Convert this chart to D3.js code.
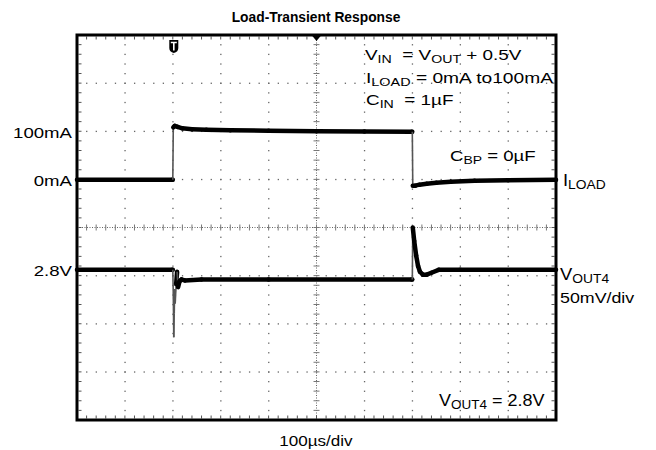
<!DOCTYPE html>
<html>
<head>
<meta charset="utf-8">
<script src="https://cdn.jsdelivr.net/npm/d3@7"></script>
<style>
  body { margin: 0; background: #fff; }
  svg text { font-family: "Liberation Sans", Arial, sans-serif; fill: #000; }
</style>
</head>
<body>
<div id="chart"></div>
<script>
// scope traces, read off the screen shot
// time in µs (100µs/div, 10 div across)
const loadTime = [0, 199, 200, 201, 204, 210, 220, 240, 270, 320, 400, 500, 600, 699, 700, 701, 706, 715, 730, 750, 780, 830, 900, 1000];
const loadMA   = [0, 0, 0, 109, 112, 110, 107, 105, 104, 103, 102, 101, 100.5, 100, 100, -12, -12, -10, -8, -6, -4, -2, -1, 0];

const voutTime = [0, 199, 200, 201, 202, 203, 204, 205, 207, 209, 211, 214, 218, 225, 260, 400, 699, 700, 701, 704, 708, 712, 716, 722, 730, 740, 755, 800, 1000];
const voutMV   = [0, 0, 0, -25, -70, -45, -20, -35, -15, -2, -18, -12, -10, -11, -10, -10, -10, -10, 44, 30, 15, 4, -2, -5, -5, -3, 0, 0, 0];

const xDivs = 10, yDivs = 8;
const chLabelsLeft = [
  { text: '100mA', ch: 'I', v: 100 },
  { text: '0mA', ch: 'I', v: 0 },
  { text: '2.8V', ch: 'V', v: 0 }
];

const W = 656, H = 450;
const frame = { left: 77, right: 556, top: 35, bottom: 420 };
const NB = '\u00a0';

const svg = d3.select('#chart').append('svg')
  .attr('width', W).attr('height', H);

const x = d3.scaleLinear().domain([0, 1000]).range([frame.left, frame.right]);
const yDiv = d3.scaleLinear().domain([-yDivs / 2, yDivs / 2]).range([frame.bottom, frame.top]);
const xDiv = d3.scaleLinear().domain([0, xDivs]).range([frame.left, frame.right]);

// channel offsets / scales in divisions
const yI = d3.scaleLinear().domain([0, 100]).range([yDiv(0.99), yDiv(1.99)]);     // 100mA/div
const yV = d3.scaleLinear().domain([0, 50]).range([yDiv(-0.88), yDiv(0.12)]);     // 50mV/div

// --- graticule ---
const grid = svg.append('g');
const minorX = d3.range(1, xDivs * 5).map(j => j / 5);
const minorY = d3.range(1, yDivs * 5).map(j => -yDivs / 2 + j / 5);

// dotted division lines
d3.range(1, xDivs).filter(k => k !== xDivs / 2).forEach(k => {
  grid.selectAll(null).data(minorY).enter().append('rect')
    .attr('x', xDiv(k) - 0.5).attr('y', d => yDiv(d) - 0.5)
    .attr('width', 1.3).attr('height', 1.3).attr('fill', '#666');
});
d3.range(-yDivs / 2 + 1, yDivs / 2).filter(k => k !== 0).forEach(k => {
  grid.selectAll(null).data(minorX).enter().append('rect')
    .attr('x', d => xDiv(d) - 0.5).attr('y', yDiv(k) - 0.5)
    .attr('width', 1.3).attr('height', 1.3).attr('fill', '#666');
});

// centre axes
grid.append('line')
  .attr('x1', frame.left).attr('x2', frame.right)
  .attr('y1', yDiv(0)).attr('y2', yDiv(0))
  .attr('stroke', '#666').attr('stroke-dasharray', '1,1.5');
grid.append('line')
  .attr('x1', xDiv(xDivs / 2)).attr('x2', xDiv(xDivs / 2))
  .attr('y1', frame.top).attr('y2', frame.bottom)
  .attr('stroke', '#666').attr('stroke-dasharray', '1,1.5');
grid.selectAll(null).data(minorX).enter().append('line')
  .attr('x1', d => xDiv(d)).attr('x2', d => xDiv(d))
  .attr('y1', yDiv(0) - 3).attr('y2', yDiv(0) + 3)
  .attr('stroke', '#777');
grid.selectAll(null).data(minorY).enter().append('line')
  .attr('y1', d => yDiv(d)).attr('y2', d => yDiv(d))
  .attr('x1', xDiv(xDivs / 2) - 3).attr('x2', xDiv(xDivs / 2) + 3)
  .attr('stroke', '#777');

// border ticks
[frame.top + 1.5, frame.bottom - 1.5].forEach((yy, i) => {
  const dir = i === 0 ? 1 : -1;
  grid.selectAll(null).data(minorX).enter().append('line')
    .attr('x1', d => xDiv(d)).attr('x2', d => xDiv(d))
    .attr('y1', yy).attr('y2', yy + dir * 3)
    .attr('stroke', '#555');
});
[frame.left + 1.5, frame.right - 1.5].forEach((xx, i) => {
  const dir = i === 0 ? 1 : -1;
  grid.selectAll(null).data(minorY).enter().append('line')
    .attr('y1', d => yDiv(d)).attr('y2', d => yDiv(d))
    .attr('x1', xx).attr('x2', xx + dir * 3)
    .attr('stroke', '#555');
});

// --- traces ---
// slow parts drawn as the thick noisy band, fast edges thin and grey
function drawTrace(ts, vs, yScale) {
  const pts = ts.map((t, i) => [x(t), yScale(vs[i])]);
  const g = svg.append('g');
  for (let i = 1; i < pts.length; i++) {
    const a = pts[i - 1], b = pts[i];
    const steep = Math.abs(b[1] - a[1]) > 15 * Math.max(Math.abs(b[0] - a[0]), 0.01);
    g.append('line')
      .attr('x1', a[0]).attr('y1', a[1]).attr('x2', b[0]).attr('y2', b[1])
      .attr('stroke', steep ? '#555' : '#000')
      .attr('stroke-width', steep ? 1.6 : 4.5)
      .attr('stroke-linecap', steep ? 'butt' : 'round');
  }
}
drawTrace(loadTime, loadMA, yI);
drawTrace(voutTime, voutMV, yV);

// frame
svg.append('rect')
  .attr('x', frame.left).attr('y', frame.top)
  .attr('width', frame.right - frame.left).attr('height', frame.bottom - frame.top)
  .attr('fill', 'none').attr('stroke', '#000').attr('stroke-width', 3);

// trigger position marker (top) and trigger marker "T"
const xc = xDiv(xDivs / 2);
svg.append('path')
  .attr('d', `M${xc - 5},${frame.top} L${xc + 5},${frame.top} L${xc},${frame.top + 6} Z`)
  .attr('fill', '#000');
const tg = svg.append('g').attr('transform', `translate(${x(200) + 1},${frame.top + 11})`);
tg.append('path').attr('d', 'M-4.5,-6 H4.5 V2 Q4.5,6 0,7 Q-4.5,6 -4.5,2 Z').attr('fill', '#000');
tg.append('path').attr('d', 'M-3,-3.5 H3 M0,-3.5 V4.5').attr('stroke', '#fff').attr('stroke-width', 1.6);

// --- text ---
function label(xx, yy, parts, opts = {}) {
  const size = opts.size || 15.5;
  const sx = opts.sx || 1.15;
  const t = svg.append('g')
    .attr('transform', `translate(${xx},${yy}) scale(${sx},1)`)
    .append('text')
    .attr('font-size', size)
    .attr('text-anchor', opts.anchor || 'start')
    .attr('font-weight', opts.bold ? 'bold' : null);
  let shift = 0;
  parts.forEach(p => {
    const sub = Array.isArray(p);
    const txt = sub ? p[0] : p;
    const dy = sub ? 3 - shift : -shift;
    shift = sub ? 3 : 0;
    t.append('tspan')
      .attr('dy', dy)
      .attr('font-size', sub ? size * 0.75 : size)
      .text(txt);
  });
  return t;
}

label(316, 22, ['Load-Transient Response'], { anchor: 'middle', bold: true, size: 13.8, sx: 1.0 });

chLabelsLeft.forEach(d => {
  const yy = d.ch === 'I' ? yI(d.v) : yV(d.v);
  label(72, yy + 6, [d.text], { anchor: 'end', sx: 1.2 });
});

label(365, 59.5, ['V', ['IN'], NB + NB + '= V', ['OUT'], NB + '+ 0.5V'], { size: 15.5, sx: 1.22 });
label(366, 82.5, ['I', ['LOAD'], NB + '= 0mA to100mA'], { size: 15.5, sx: 1.24 });
label(366, 105, ['C', ['IN'], NB + NB + '= 1µF'], { size: 15.5, sx: 1.22 });
label(450, 160.5, ['C', ['BP'], ' = 0µF'], { size: 15.5, sx: 1.2 });

label(563, yI(0) + 6.5, ['I', ['LOAD']], { size: 16 });
label(560, yV(0) + 10, ['V', ['OUT4']], { size: 16 });
label(560, 303, ['50mV/div'], { size: 15.5 });
label(439, 406, ['V', ['OUT4'], ' = 2.8V'], { size: 16.5, sx: 1.09 });

label(316, 446, ['100µs/div'], { anchor: 'middle', size: 15.5, sx: 1.1 });
</script>
</body>
</html>
